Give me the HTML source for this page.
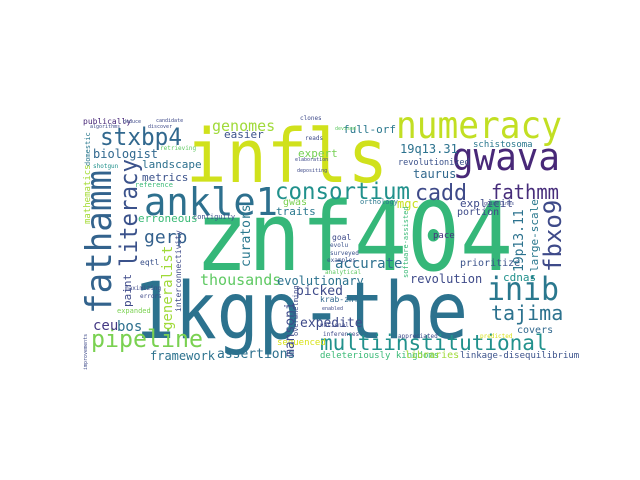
<!DOCTYPE html>
<html><head><meta charset="utf-8"><style>
html,body{margin:0;padding:0;background:#fff;width:640px;height:480px;overflow:hidden}
svg text{font-family:"DejaVu Sans Mono","Liberation Mono",monospace}
</style></head><body>
<svg width="640" height="480" viewBox="0 0 640 480" xmlns="http://www.w3.org/2000/svg">
<rect width="640" height="480" fill="#fff"/>
<g>
<text x="195" y="270" font-size="95" fill="#35b779" textLength="318" lengthAdjust="spacingAndGlyphs">znf404</text>
<text x="133" y="338" font-size="78" fill="#2c728e" textLength="335" lengthAdjust="spacingAndGlyphs">1kgp-the</text>
<text x="186" y="182" font-size="74" fill="#d0e11c" textLength="202" lengthAdjust="spacingAndGlyphs">infls</text>
<text x="396" y="138" font-size="37" fill="#c2df23" textLength="166" lengthAdjust="spacingAndGlyphs">numeracy</text>
<text x="452" y="170" font-size="38" fill="#482878" textLength="108" lengthAdjust="spacingAndGlyphs">gwava</text>
<text x="144" y="215" font-size="38" fill="#2d708e" textLength="134" lengthAdjust="spacingAndGlyphs">ankle1</text>
<text x="275" y="199" font-size="23" fill="#21918c" textLength="135" lengthAdjust="spacingAndGlyphs">consortium</text>
<text x="415" y="200" font-size="22" fill="#3e4a89" textLength="52" lengthAdjust="spacingAndGlyphs">cadd</text>
<text x="491" y="199" font-size="20" fill="#472d7b" textLength="68" lengthAdjust="spacingAndGlyphs">fathmm</text>
<text x="487" y="300" font-size="32" fill="#2a788e" textLength="72" lengthAdjust="spacingAndGlyphs">inib</text>
<text x="491" y="320" font-size="20" fill="#2c728e">tajima</text>
<text x="320" y="350" font-size="21" fill="#21918c">multiinstitutional</text>
<text x="91" y="347" font-size="24" fill="#7ad151" textLength="112" lengthAdjust="spacingAndGlyphs">pipeline</text>
<text x="100" y="145" font-size="24" fill="#31688e" textLength="82" lengthAdjust="spacingAndGlyphs">stxbp4</text>
<text x="212" y="131" font-size="15" fill="#a0da39">genomes</text>
<text x="224" y="138" font-size="11" fill="#3b528b">easier</text>
<text x="93" y="158" font-size="12" fill="#31688e">biologist</text>
<text x="142" y="168" font-size="11" fill="#2d708e">landscape</text>
<text x="142" y="181" font-size="11" fill="#3b528b">metrics</text>
<text x="144" y="243" font-size="18" fill="#34618d">gerp</text>
<text x="138" y="222" font-size="11" fill="#3aba76">erroneous</text>
<text x="276" y="215" font-size="11" fill="#2a788e">traits</text>
<text x="283" y="205" font-size="10" fill="#7ad151">gwas</text>
<text x="298" y="157" font-size="11" fill="#75d054">expert</text>
<text x="343" y="133" font-size="11" fill="#2a788e">full-orf</text>
<text x="400" y="153" font-size="12" fill="#2c728e">19q13.31</text>
<text x="473" y="147" font-size="9" fill="#2a788e">schistosoma</text>
<text x="398" y="165" font-size="8.5" fill="#3b528b">revolutionized</text>
<text x="413" y="178" font-size="12" fill="#31688e">taurus</text>
<text x="397" y="208" font-size="12" fill="#c8e020">mgc</text>
<text x="460" y="207" font-size="11" fill="#3e4a89">explicit</text>
<text x="457" y="215" font-size="10" fill="#3e4a89">portion</text>
<text x="410" y="283" font-size="12" fill="#3e4a89">revolution</text>
<text x="460" y="266" font-size="10" fill="#3b528b">prioritize</text>
<text x="433" y="238" font-size="9" fill="#46337e">pace</text>
<text x="503" y="281" font-size="11" fill="#21918c">cdnas</text>
<text x="200" y="285" font-size="15" fill="#5ec962">thousands</text>
<text x="277" y="285" font-size="12" fill="#2c728e">evolutionary</text>
<text x="335" y="268" font-size="14" fill="#2d708e">accurate</text>
<text x="296" y="295" font-size="13" fill="#3e4a89">picked</text>
<text x="300" y="327" font-size="13" fill="#3e4a89">expedite</text>
<text x="150" y="360" font-size="12" fill="#2c728e">framework</text>
<text x="217" y="358" font-size="13" fill="#2d708e">assertions</text>
<text x="93" y="330" font-size="14" fill="#443983">ceu</text>
<text x="117" y="331" font-size="14" fill="#2d708e">bos</text>
<text x="517" y="333" font-size="10" fill="#31688e">covers</text>
<text x="320" y="358" font-size="9" fill="#3aba76">deleteriously kingdoms</text>
<text x="405" y="358" font-size="10" fill="#a0da39">libraries</text>
<text x="460" y="358" font-size="9" fill="#3b528b">linkage-disequilibrium</text>
<text x="83" y="124" font-size="8" fill="#482878">publically</text>
<text x="277" y="345" font-size="9" fill="#d8e219">sequenced</text>
<text x="320" y="302" font-size="8" fill="#31688e">krab-znf</text>
<text x="332" y="240" font-size="8" fill="#3e4a89">goal</text>
<text x="140" y="265" font-size="8" fill="#3b528b">eqtl</text>
<text x="117" y="313" font-size="7" fill="#7ad151">expanded</text>
<text x="135" y="187" font-size="7" fill="#3aba76">reference</text>
<text x="193" y="219" font-size="7" fill="#3b528b">contiguity</text>
<text x="160" y="150" font-size="6" fill="#5ec962">retrieving</text>
<text x="93" y="168" font-size="6" fill="#21918c">shotgun</text>
<text x="90" y="128" font-size="5" fill="#3e4a89">algorithms</text>
<text x="148" y="128" font-size="5" fill="#3e4a89">discover</text>
<text x="123" y="123" font-size="5" fill="#3e4a89">deduce</text>
<text x="156" y="122" font-size="5" fill="#3e4a89">candidate</text>
<text x="360" y="204" font-size="7" fill="#2a788e">orthology</text>
<text x="484" y="205" font-size="5" fill="#3e4a89">guidelines</text>
<text x="300" y="120" font-size="6" fill="#3e4a89">clones</text>
<text x="335" y="130" font-size="5" fill="#5ec962">devised</text>
<text x="305" y="140" font-size="6" fill="#3e4a89">reads</text>
<text x="295" y="161" font-size="5" fill="#3e4a89">elaboration</text>
<text x="297" y="172" font-size="5" fill="#3e4a89">depositing</text>
<text x="330" y="247" font-size="6" fill="#3b528b">evolu</text>
<text x="330" y="255" font-size="6" fill="#3b528b">surveyed</text>
<text x="327" y="262" font-size="6" fill="#3b528b">examples</text>
<text x="325" y="274" font-size="6" fill="#5ec962">analytical</text>
<text x="322" y="310" font-size="5" fill="#3e4a89">enabled</text>
<text x="323" y="336" font-size="6" fill="#3e4a89">inferences</text>
<text x="398" y="338" font-size="6" fill="#3e4a89">appreciated</text>
<text x="480" y="338" font-size="6" fill="#d8e219">predicted</text>
<text x="140" y="298" font-size="6" fill="#3e4a89">errors</text>
<text x="125" y="290" font-size="6" fill="#3e4a89">maximizing</text>
<text x="320" y="327" font-size="6" fill="#3e4a89">national</text>
</g>
<g>
<text transform="translate(111,314) rotate(-90)" font-size="36" fill="#33638d" textLength="144" lengthAdjust="spacingAndGlyphs">fathamm</text>
<text transform="translate(137,267) rotate(-90)" font-size="24" fill="#3b528b" textLength="108" lengthAdjust="spacingAndGlyphs">literacy</text>
<text transform="translate(90,224) rotate(-90)" font-size="9" fill="#a5db36">mathematics</text>
<text transform="translate(172,330) rotate(-90)" font-size="14" fill="#a0da39">generalist</text>
<text transform="translate(131,307) rotate(-90)" font-size="11" fill="#3e4a89">paint</text>
<text transform="translate(250,267) rotate(-90)" font-size="13" fill="#2a788e">curators</text>
<text transform="translate(294,357) rotate(-90)" font-size="13" fill="#3e4a89">mansoni</text>
<text transform="translate(181,312) rotate(-90)" font-size="8" fill="#3e4a89">interconnectivity</text>
<text transform="translate(408,278) rotate(-90)" font-size="7" fill="#3aba76">software-assisted</text>
<text transform="translate(523,272) rotate(-90)" font-size="13" fill="#2c728e">19p13.11</text>
<text transform="translate(538,272) rotate(-90)" font-size="11" fill="#2a788e">large-scale</text>
<text transform="translate(561,272) rotate(-90)" font-size="24" fill="#3e4a89">fbxo9</text>
<text transform="translate(90,166) rotate(-90)" font-size="7" fill="#2a788e">domestic</text>
<text transform="translate(298,336) rotate(-90)" font-size="7" fill="#3e4a89">overwhelming</text>
<text transform="translate(87,370) rotate(-90)" font-size="5" fill="#3e4a89">improvements</text>
</g>
</svg>
</body></html>
